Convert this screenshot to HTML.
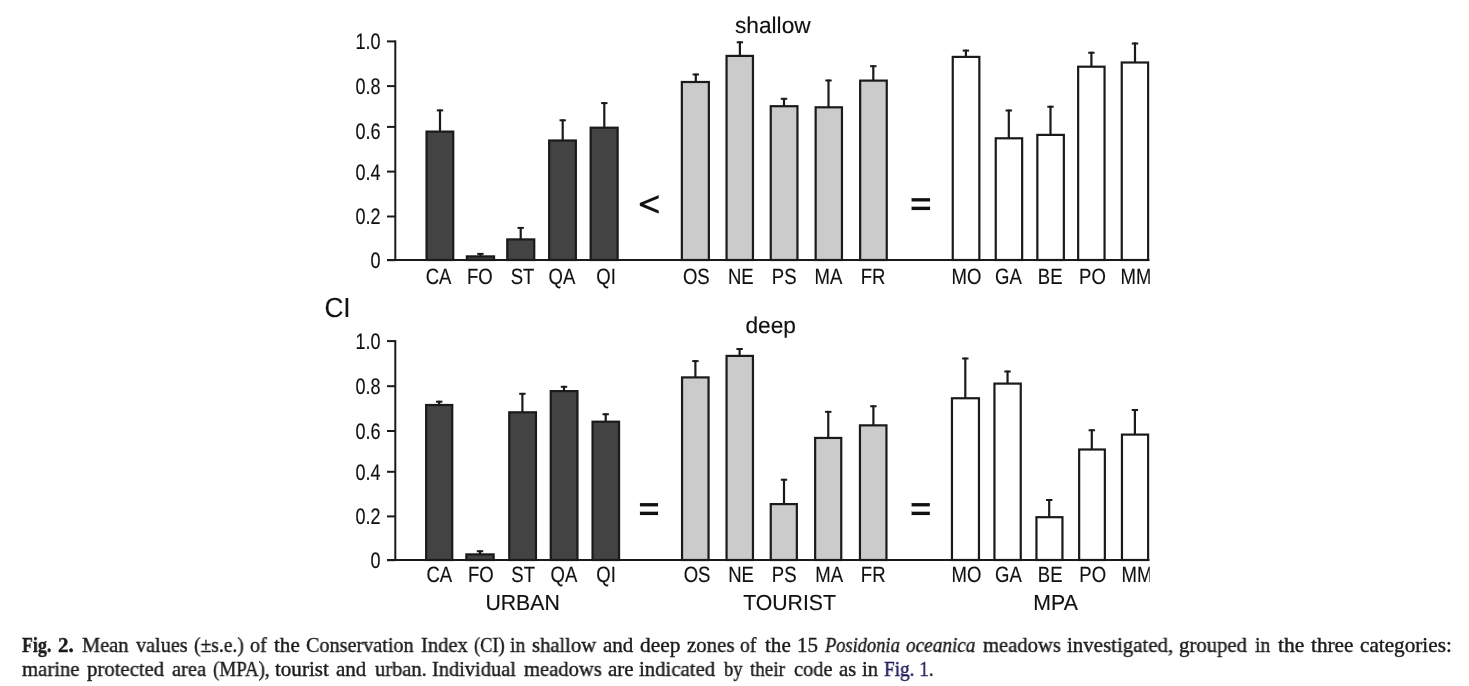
<!DOCTYPE html>
<html><head><meta charset="utf-8"><style>
html,body{margin:0;padding:0;background:#fff;width:1469px;height:686px;overflow:hidden;position:relative}
.ax{font-size:22.5px}
.bl{font-size:22.2px}
.tt{font-size:22.7px}
.ci{font-size:27.6px}
.gl{font-size:21.8px}
.w{position:absolute;font-family:"Liberation Serif",serif;font-size:21px;line-height:0;white-space:nowrap;color:#1b1b1b;-webkit-text-stroke:0.4px currentColor;transform-origin:0 0;will-change:transform}
.w b{font-weight:bold}
.lk{color:#1a1a58}
</style></head><body>
<svg width="1469" height="686" viewBox="0 0 1469 686" style="position:absolute;left:0;top:0;will-change:transform">
<defs><clipPath id="cp"><rect x="0" y="0" width="1149.8" height="686"/></clipPath></defs>
<g clip-path="url(#cp)" font-family="Liberation Sans, sans-serif" fill="#111" stroke="#111" stroke-width="0.15" text-rendering="geometricPrecision">
<line x1="395.3" y1="40.4" x2="395.3" y2="261.0" stroke="#1a1a1a" stroke-width="2"/>
<line x1="387" y1="260.2" x2="395.3" y2="260.2" stroke="#1a1a1a" stroke-width="2"/>
<text x="380.6" y="268.1" text-anchor="end" class="ax" transform="translate(380.6 0) scale(0.80 1) translate(-380.6 0)">0</text>
<line x1="387" y1="216.5" x2="395.3" y2="216.5" stroke="#1a1a1a" stroke-width="2"/>
<text x="380.6" y="224.3" text-anchor="end" class="ax" transform="translate(380.6 0) scale(0.80 1) translate(-380.6 0)">0.2</text>
<line x1="387" y1="171.6" x2="395.3" y2="171.6" stroke="#1a1a1a" stroke-width="2"/>
<text x="380.6" y="179.7" text-anchor="end" class="ax" transform="translate(380.6 0) scale(0.80 1) translate(-380.6 0)">0.4</text>
<line x1="387" y1="126.9" x2="395.3" y2="126.9" stroke="#1a1a1a" stroke-width="2"/>
<text x="380.6" y="139.0" text-anchor="end" class="ax" transform="translate(380.6 0) scale(0.80 1) translate(-380.6 0)">0.6</text>
<line x1="387" y1="86.1" x2="395.3" y2="86.1" stroke="#1a1a1a" stroke-width="2"/>
<text x="380.6" y="94.2" text-anchor="end" class="ax" transform="translate(380.6 0) scale(0.80 1) translate(-380.6 0)">0.8</text>
<line x1="387" y1="41.4" x2="395.3" y2="41.4" stroke="#1a1a1a" stroke-width="2"/>
<text x="380.6" y="49.0" text-anchor="end" class="ax" transform="translate(380.6 0) scale(0.80 1) translate(-380.6 0)">1.0</text>
<line x1="440.0" y1="109.5" x2="440.0" y2="131.5" stroke="#1a1a1a" stroke-width="2.2"/>
<line x1="436.8" y1="110.4" x2="443.2" y2="110.4" stroke="#1a1a1a" stroke-width="2"/>
<rect x="426.55" y="131.60" width="26.70" height="128.40" fill="#434343" stroke="#1a1a1a" stroke-width="2.2"/>
<text x="438.6" y="283.5" text-anchor="middle" class="bl" transform="translate(438.6 0) scale(0.835 1) translate(-438.6 0)">CA</text>
<line x1="480.4" y1="253.0" x2="480.4" y2="256.29999999999995" stroke="#1a1a1a" stroke-width="2.2"/>
<line x1="477.2" y1="253.9" x2="483.59999999999997" y2="253.9" stroke="#1a1a1a" stroke-width="2"/>
<rect x="466.85" y="256.40" width="27.20" height="3.60" fill="#434343" stroke="#1a1a1a" stroke-width="2.2"/>
<text x="479.9" y="283.5" text-anchor="middle" class="bl" transform="translate(479.9 0) scale(0.835 1) translate(-479.9 0)">FO</text>
<line x1="520.7" y1="227.0" x2="520.7" y2="239.29999999999998" stroke="#1a1a1a" stroke-width="2.2"/>
<line x1="517.5" y1="227.9" x2="523.9000000000001" y2="227.9" stroke="#1a1a1a" stroke-width="2"/>
<rect x="507.25" y="239.40" width="27.00" height="20.60" fill="#434343" stroke="#1a1a1a" stroke-width="2.2"/>
<text x="522.5" y="283.5" text-anchor="middle" class="bl" transform="translate(522.5 0) scale(0.835 1) translate(-522.5 0)">ST</text>
<line x1="562.7" y1="119.39999999999999" x2="562.7" y2="140.4" stroke="#1a1a1a" stroke-width="2.2"/>
<line x1="559.5" y1="120.3" x2="565.9000000000001" y2="120.3" stroke="#1a1a1a" stroke-width="2"/>
<rect x="549.15" y="140.50" width="26.70" height="119.50" fill="#434343" stroke="#1a1a1a" stroke-width="2.2"/>
<text x="562.0" y="283.5" text-anchor="middle" class="bl" transform="translate(562.0 0) scale(0.835 1) translate(-562.0 0)">QA</text>
<line x1="604.3" y1="102.19999999999999" x2="604.3" y2="127.6" stroke="#1a1a1a" stroke-width="2.2"/>
<line x1="601.0999999999999" y1="103.1" x2="607.5" y2="103.1" stroke="#1a1a1a" stroke-width="2"/>
<rect x="590.65" y="127.70" width="27.00" height="132.30" fill="#434343" stroke="#1a1a1a" stroke-width="2.2"/>
<text x="606.0" y="283.5" text-anchor="middle" class="bl" transform="translate(606.0 0) scale(0.835 1) translate(-606.0 0)">QI</text>
<line x1="695.8" y1="73.6" x2="695.8" y2="81.89999999999999" stroke="#1a1a1a" stroke-width="2.2"/>
<line x1="692.5999999999999" y1="74.5" x2="699.0" y2="74.5" stroke="#1a1a1a" stroke-width="2"/>
<rect x="681.85" y="82.00" width="27.00" height="178.00" fill="#cbcbcb" stroke="#1a1a1a" stroke-width="2.2"/>
<text x="696.3" y="283.5" text-anchor="middle" class="bl" transform="translate(696.3 0) scale(0.835 1) translate(-696.3 0)">OS</text>
<line x1="739.9" y1="41.4" x2="739.9" y2="55.800000000000004" stroke="#1a1a1a" stroke-width="2.2"/>
<line x1="736.6999999999999" y1="42.3" x2="743.1" y2="42.3" stroke="#1a1a1a" stroke-width="2"/>
<rect x="726.55" y="55.90" width="26.40" height="204.10" fill="#cbcbcb" stroke="#1a1a1a" stroke-width="2.2"/>
<text x="740.8" y="283.5" text-anchor="middle" class="bl" transform="translate(740.8 0) scale(0.835 1) translate(-740.8 0)">NE</text>
<line x1="784.0" y1="97.89999999999999" x2="784.0" y2="106.1" stroke="#1a1a1a" stroke-width="2.2"/>
<line x1="780.8" y1="98.8" x2="787.2" y2="98.8" stroke="#1a1a1a" stroke-width="2"/>
<rect x="770.75" y="106.20" width="26.70" height="153.80" fill="#cbcbcb" stroke="#1a1a1a" stroke-width="2.2"/>
<text x="784.2" y="283.5" text-anchor="middle" class="bl" transform="translate(784.2 0) scale(0.835 1) translate(-784.2 0)">PS</text>
<line x1="828.5" y1="79.6" x2="828.5" y2="107.19999999999999" stroke="#1a1a1a" stroke-width="2.2"/>
<line x1="825.3" y1="80.5" x2="831.7" y2="80.5" stroke="#1a1a1a" stroke-width="2"/>
<rect x="815.65" y="107.30" width="26.30" height="152.70" fill="#cbcbcb" stroke="#1a1a1a" stroke-width="2.2"/>
<text x="828.4" y="283.5" text-anchor="middle" class="bl" transform="translate(828.4 0) scale(0.835 1) translate(-828.4 0)">MA</text>
<line x1="873.3" y1="65.3" x2="873.3" y2="80.5" stroke="#1a1a1a" stroke-width="2.2"/>
<line x1="870.0999999999999" y1="66.2" x2="876.5" y2="66.2" stroke="#1a1a1a" stroke-width="2"/>
<rect x="860.15" y="80.60" width="26.60" height="179.40" fill="#cbcbcb" stroke="#1a1a1a" stroke-width="2.2"/>
<text x="873.0" y="283.5" text-anchor="middle" class="bl" transform="translate(873.0 0) scale(0.835 1) translate(-873.0 0)">FR</text>
<line x1="965.9" y1="49.7" x2="965.9" y2="56.800000000000004" stroke="#1a1a1a" stroke-width="2.2"/>
<line x1="962.6999999999999" y1="50.6" x2="969.1" y2="50.6" stroke="#1a1a1a" stroke-width="2"/>
<rect x="952.75" y="56.90" width="26.60" height="203.10" fill="#ffffff" stroke="#1a1a1a" stroke-width="2.2"/>
<text x="966.4" y="283.5" text-anchor="middle" class="bl" transform="translate(966.4 0) scale(0.835 1) translate(-966.4 0)">MO</text>
<line x1="1008.8" y1="109.6" x2="1008.8" y2="138.2" stroke="#1a1a1a" stroke-width="2.2"/>
<line x1="1005.5999999999999" y1="110.5" x2="1012.0" y2="110.5" stroke="#1a1a1a" stroke-width="2"/>
<rect x="995.75" y="138.30" width="26.40" height="121.70" fill="#ffffff" stroke="#1a1a1a" stroke-width="2.2"/>
<text x="1008.4" y="283.5" text-anchor="middle" class="bl" transform="translate(1008.4 0) scale(0.835 1) translate(-1008.4 0)">GA</text>
<line x1="1050.5" y1="105.8" x2="1050.5" y2="134.79999999999998" stroke="#1a1a1a" stroke-width="2.2"/>
<line x1="1047.3" y1="106.7" x2="1053.7" y2="106.7" stroke="#1a1a1a" stroke-width="2"/>
<rect x="1037.35" y="134.90" width="26.50" height="125.10" fill="#ffffff" stroke="#1a1a1a" stroke-width="2.2"/>
<text x="1050.2" y="283.5" text-anchor="middle" class="bl" transform="translate(1050.2 0) scale(0.835 1) translate(-1050.2 0)">BE</text>
<line x1="1091.4" y1="51.800000000000004" x2="1091.4" y2="66.6" stroke="#1a1a1a" stroke-width="2.2"/>
<line x1="1088.2" y1="52.7" x2="1094.6000000000001" y2="52.7" stroke="#1a1a1a" stroke-width="2"/>
<rect x="1078.15" y="66.70" width="26.40" height="193.30" fill="#ffffff" stroke="#1a1a1a" stroke-width="2.2"/>
<text x="1092.5" y="283.5" text-anchor="middle" class="bl" transform="translate(1092.5 0) scale(0.835 1) translate(-1092.5 0)">PO</text>
<line x1="1135.0" y1="42.5" x2="1135.0" y2="62.4" stroke="#1a1a1a" stroke-width="2.2"/>
<line x1="1131.8" y1="43.4" x2="1138.2" y2="43.4" stroke="#1a1a1a" stroke-width="2"/>
<rect x="1121.75" y="62.50" width="26.40" height="197.50" fill="#ffffff" stroke="#1a1a1a" stroke-width="2.2"/>
<text x="1136.0" y="283.5" text-anchor="middle" class="bl" transform="translate(1136.0 0) scale(0.835 1) translate(-1136.0 0)">MM</text>
<line x1="387" y1="260.0" x2="1149.5" y2="260.0" stroke="#1a1a1a" stroke-width="2"/>
<line x1="395.3" y1="340.15" x2="395.3" y2="561.0" stroke="#1a1a1a" stroke-width="2"/>
<line x1="387" y1="560.2" x2="395.3" y2="560.2" stroke="#1a1a1a" stroke-width="2"/>
<text x="380.6" y="568.1" text-anchor="end" class="ax" transform="translate(380.6 0) scale(0.80 1) translate(-380.6 0)">0</text>
<line x1="387" y1="516.4" x2="395.3" y2="516.4" stroke="#1a1a1a" stroke-width="2"/>
<text x="380.6" y="524.3" text-anchor="end" class="ax" transform="translate(380.6 0) scale(0.80 1) translate(-380.6 0)">0.2</text>
<line x1="387" y1="471.8" x2="395.3" y2="471.8" stroke="#1a1a1a" stroke-width="2"/>
<text x="380.6" y="479.7" text-anchor="end" class="ax" transform="translate(380.6 0) scale(0.80 1) translate(-380.6 0)">0.4</text>
<line x1="387" y1="431.0" x2="395.3" y2="431.0" stroke="#1a1a1a" stroke-width="2"/>
<text x="380.6" y="439.1" text-anchor="end" class="ax" transform="translate(380.6 0) scale(0.80 1) translate(-380.6 0)">0.6</text>
<line x1="387" y1="386.2" x2="395.3" y2="386.2" stroke="#1a1a1a" stroke-width="2"/>
<text x="380.6" y="394.1" text-anchor="end" class="ax" transform="translate(380.6 0) scale(0.80 1) translate(-380.6 0)">0.8</text>
<line x1="387" y1="341.1" x2="395.3" y2="341.1" stroke="#1a1a1a" stroke-width="2"/>
<text x="380.6" y="349.1" text-anchor="end" class="ax" transform="translate(380.6 0) scale(0.80 1) translate(-380.6 0)">1.0</text>
<line x1="439.2" y1="400.8" x2="439.2" y2="404.90000000000003" stroke="#1a1a1a" stroke-width="2.2"/>
<line x1="436.0" y1="401.7" x2="442.4" y2="401.7" stroke="#1a1a1a" stroke-width="2"/>
<rect x="426.15" y="405.00" width="26.10" height="155.00" fill="#434343" stroke="#1a1a1a" stroke-width="2.2"/>
<text x="439.3" y="582.3" text-anchor="middle" class="bl" transform="translate(439.3 0) scale(0.835 1) translate(-439.3 0)">CA</text>
<line x1="480.0" y1="550.35" x2="480.0" y2="554.3000000000001" stroke="#1a1a1a" stroke-width="2.2"/>
<line x1="476.8" y1="551.25" x2="483.2" y2="551.25" stroke="#1a1a1a" stroke-width="2"/>
<rect x="466.35" y="554.40" width="27.30" height="5.60" fill="#434343" stroke="#1a1a1a" stroke-width="2.2"/>
<text x="480.9" y="582.3" text-anchor="middle" class="bl" transform="translate(480.9 0) scale(0.835 1) translate(-480.9 0)">FO</text>
<line x1="522.4" y1="392.90000000000003" x2="522.4" y2="412.20000000000005" stroke="#1a1a1a" stroke-width="2.2"/>
<line x1="519.1999999999999" y1="393.8" x2="525.6" y2="393.8" stroke="#1a1a1a" stroke-width="2"/>
<rect x="509.25" y="412.30" width="26.70" height="147.70" fill="#434343" stroke="#1a1a1a" stroke-width="2.2"/>
<text x="523.2" y="582.3" text-anchor="middle" class="bl" transform="translate(523.2 0) scale(0.835 1) translate(-523.2 0)">ST</text>
<line x1="564.0" y1="385.90000000000003" x2="564.0" y2="391.0" stroke="#1a1a1a" stroke-width="2.2"/>
<line x1="560.8" y1="386.8" x2="567.2" y2="386.8" stroke="#1a1a1a" stroke-width="2"/>
<rect x="550.75" y="391.10" width="26.70" height="168.90" fill="#434343" stroke="#1a1a1a" stroke-width="2.2"/>
<text x="563.9" y="582.3" text-anchor="middle" class="bl" transform="translate(563.9 0) scale(0.835 1) translate(-563.9 0)">QA</text>
<line x1="605.7" y1="413.35" x2="605.7" y2="421.6" stroke="#1a1a1a" stroke-width="2.2"/>
<line x1="602.5" y1="414.25" x2="608.9000000000001" y2="414.25" stroke="#1a1a1a" stroke-width="2"/>
<rect x="592.55" y="421.70" width="26.50" height="138.30" fill="#434343" stroke="#1a1a1a" stroke-width="2.2"/>
<text x="606.0" y="582.3" text-anchor="middle" class="bl" transform="translate(606.0 0) scale(0.835 1) translate(-606.0 0)">QI</text>
<line x1="695.4" y1="360.20000000000005" x2="695.4" y2="377.3" stroke="#1a1a1a" stroke-width="2.2"/>
<line x1="692.1999999999999" y1="361.1" x2="698.6" y2="361.1" stroke="#1a1a1a" stroke-width="2"/>
<rect x="682.05" y="377.40" width="26.50" height="182.60" fill="#cbcbcb" stroke="#1a1a1a" stroke-width="2.2"/>
<text x="697.1" y="582.3" text-anchor="middle" class="bl" transform="translate(697.1 0) scale(0.835 1) translate(-697.1 0)">OS</text>
<line x1="739.6" y1="348.1" x2="739.6" y2="355.8" stroke="#1a1a1a" stroke-width="2.2"/>
<line x1="736.4" y1="349.0" x2="742.8000000000001" y2="349.0" stroke="#1a1a1a" stroke-width="2"/>
<rect x="726.55" y="355.90" width="26.40" height="204.10" fill="#cbcbcb" stroke="#1a1a1a" stroke-width="2.2"/>
<text x="741.1" y="582.3" text-anchor="middle" class="bl" transform="translate(741.1 0) scale(0.835 1) translate(-741.1 0)">NE</text>
<line x1="784.0" y1="478.85" x2="784.0" y2="504.0" stroke="#1a1a1a" stroke-width="2.2"/>
<line x1="780.8" y1="479.75" x2="787.2" y2="479.75" stroke="#1a1a1a" stroke-width="2"/>
<rect x="770.75" y="504.10" width="26.10" height="55.90" fill="#cbcbcb" stroke="#1a1a1a" stroke-width="2.2"/>
<text x="784.2" y="582.3" text-anchor="middle" class="bl" transform="translate(784.2 0) scale(0.835 1) translate(-784.2 0)">PS</text>
<line x1="828.25" y1="410.95000000000005" x2="828.25" y2="437.85" stroke="#1a1a1a" stroke-width="2.2"/>
<line x1="825.05" y1="411.85" x2="831.45" y2="411.85" stroke="#1a1a1a" stroke-width="2"/>
<rect x="815.15" y="437.95" width="26.10" height="122.05" fill="#cbcbcb" stroke="#1a1a1a" stroke-width="2.2"/>
<text x="829.2" y="582.3" text-anchor="middle" class="bl" transform="translate(829.2 0) scale(0.835 1) translate(-829.2 0)">MA</text>
<line x1="873.4" y1="405.35" x2="873.4" y2="425.25" stroke="#1a1a1a" stroke-width="2.2"/>
<line x1="870.1999999999999" y1="406.25" x2="876.6" y2="406.25" stroke="#1a1a1a" stroke-width="2"/>
<rect x="859.95" y="425.35" width="26.50" height="134.65" fill="#cbcbcb" stroke="#1a1a1a" stroke-width="2.2"/>
<text x="873.2" y="582.3" text-anchor="middle" class="bl" transform="translate(873.2 0) scale(0.835 1) translate(-873.2 0)">FR</text>
<line x1="965.3" y1="357.6" x2="965.3" y2="398.15000000000003" stroke="#1a1a1a" stroke-width="2.2"/>
<line x1="962.0999999999999" y1="358.5" x2="968.5" y2="358.5" stroke="#1a1a1a" stroke-width="2"/>
<rect x="951.95" y="398.25" width="27.00" height="161.75" fill="#ffffff" stroke="#1a1a1a" stroke-width="2.2"/>
<text x="966.5" y="582.3" text-anchor="middle" class="bl" transform="translate(966.5 0) scale(0.835 1) translate(-966.5 0)">MO</text>
<line x1="1007.55" y1="370.6" x2="1007.55" y2="383.5" stroke="#1a1a1a" stroke-width="2.2"/>
<line x1="1004.3499999999999" y1="371.5" x2="1010.75" y2="371.5" stroke="#1a1a1a" stroke-width="2"/>
<rect x="994.45" y="383.60" width="26.30" height="176.40" fill="#ffffff" stroke="#1a1a1a" stroke-width="2.2"/>
<text x="1008.4" y="582.3" text-anchor="middle" class="bl" transform="translate(1008.4 0) scale(0.835 1) translate(-1008.4 0)">GA</text>
<line x1="1049.2" y1="499.20000000000005" x2="1049.2" y2="517.1" stroke="#1a1a1a" stroke-width="2.2"/>
<line x1="1046.0" y1="500.1" x2="1052.4" y2="500.1" stroke="#1a1a1a" stroke-width="2"/>
<rect x="1036.45" y="517.20" width="26.00" height="42.80" fill="#ffffff" stroke="#1a1a1a" stroke-width="2.2"/>
<text x="1050.2" y="582.3" text-anchor="middle" class="bl" transform="translate(1050.2 0) scale(0.835 1) translate(-1050.2 0)">BE</text>
<line x1="1091.8" y1="429.40000000000003" x2="1091.8" y2="449.40000000000003" stroke="#1a1a1a" stroke-width="2.2"/>
<line x1="1088.6" y1="430.3" x2="1095.0" y2="430.3" stroke="#1a1a1a" stroke-width="2"/>
<rect x="1079.15" y="449.50" width="25.70" height="110.50" fill="#ffffff" stroke="#1a1a1a" stroke-width="2.2"/>
<text x="1092.7" y="582.3" text-anchor="middle" class="bl" transform="translate(1092.7 0) scale(0.835 1) translate(-1092.7 0)">PO</text>
<line x1="1134.9" y1="409.0" x2="1134.9" y2="434.5" stroke="#1a1a1a" stroke-width="2.2"/>
<line x1="1131.7" y1="409.9" x2="1138.1000000000001" y2="409.9" stroke="#1a1a1a" stroke-width="2"/>
<rect x="1121.95" y="434.60" width="26.20" height="125.40" fill="#ffffff" stroke="#1a1a1a" stroke-width="2.2"/>
<text x="1136.9" y="582.3" text-anchor="middle" class="bl" transform="translate(1136.9 0) scale(0.835 1) translate(-1136.9 0)">MM</text>
<line x1="387" y1="560.0" x2="1149.5" y2="560.0" stroke="#1a1a1a" stroke-width="2"/>
<text x="735" y="32.7" class="tt">shallow</text>
<text x="745.5" y="333.3" class="tt">deep</text>
<text x="337.5" y="317" text-anchor="middle" class="ci" transform="translate(337.5 0) scale(0.95 1) translate(-337.5 0)">CI</text>
<polygon points="658.6,195.3 639.9,202.9 639.9,205.7 658.6,213.4 658.6,210.5 643.9,204.3 658.6,198.2" fill="#111"/>
<rect x="911.7" y="198.20000000000002" width="18.299999999999955" height="3.2" fill="#111"/>
<rect x="911.7" y="206.8" width="18.299999999999955" height="3.2" fill="#111"/>
<rect x="640" y="503.09999999999997" width="18" height="3.2" fill="#111"/>
<rect x="640" y="511.79999999999995" width="18" height="3.2" fill="#111"/>
<rect x="911.7" y="503.09999999999997" width="18.09999999999991" height="3.2" fill="#111"/>
<rect x="911.7" y="511.79999999999995" width="18.09999999999991" height="3.2" fill="#111"/>
<text x="522.6" y="610.2" text-anchor="middle" class="gl" transform="translate(522.6 0) scale(0.975 1) translate(-522.6 0)">URBAN</text>
<text x="789.6" y="610.2" text-anchor="middle" class="gl" transform="translate(789.6 0) scale(0.975 1) translate(-789.6 0)">TOURIST</text>
<text x="1055.6" y="610.2" text-anchor="middle" class="gl" transform="translate(1055.6 0) scale(0.975 1) translate(-1055.6 0)">MPA</text>
</g></svg>
<span class="w" style="left:22.3px;top:644.9px;transform:scaleX(0.85)"><b>Fig.</b></span>
<span class="w" style="left:57.8px;top:644.9px;transform:scaleX(1.0)"><b>2.</b></span>
<span class="w" style="left:82.33px;top:644.9px;transform:scaleX(0.972)">Mean</span>
<span class="w" style="left:136.0px;top:644.9px;transform:scaleX(0.962)">values</span>
<span class="w" style="left:193.77px;top:644.9px;transform:scaleX(0.931)">(±s.e.)</span>
<span class="w" style="left:249.84px;top:644.9px;transform:scaleX(0.959)">of</span>
<span class="w" style="left:273.6px;top:644.9px;transform:scaleX(1.004)">the</span>
<span class="w" style="left:306.14px;top:644.9px;transform:scaleX(0.961)">Conservation</span>
<span class="w" style="left:420.82px;top:644.9px;transform:scaleX(0.98)">Index</span>
<span class="w" style="left:473.62px;top:644.9px;transform:scaleX(0.876)">(CI)</span>
<span class="w" style="left:510.05px;top:644.9px;transform:scaleX(0.947)">in</span>
<span class="w" style="left:532.32px;top:644.9px;transform:scaleX(0.98)">shallow</span>
<span class="w" style="left:603.2px;top:644.9px;transform:scaleX(1.0)">and</span>
<span class="w" style="left:640.38px;top:644.9px;transform:scaleX(1.018)">deep</span>
<span class="w" style="left:686.71px;top:644.9px;transform:scaleX(0.993)">zones</span>
<span class="w" style="left:740.16px;top:644.9px;transform:scaleX(0.935)">of</span>
<span class="w" style="left:764.7px;top:644.9px;transform:scaleX(1.004)">the</span>
<span class="w" style="left:796.51px;top:644.9px;transform:scaleX(0.994)">15</span>
<span class="w" style="left:824.6px;top:644.9px;transform:scaleX(0.878)"><i>Posidonia</i></span>
<span class="w" style="left:905.88px;top:644.9px;transform:scaleX(0.916)"><i>oceanica</i></span>
<span class="w" style="left:982.8px;top:644.9px;transform:scaleX(0.981)">meadows</span>
<span class="w" style="left:1067.0px;top:644.9px;transform:scaleX(0.995)">investigated,</span>
<span class="w" style="left:1178.61px;top:644.9px;transform:scaleX(0.988)">grouped</span>
<span class="w" style="left:1254.66px;top:644.9px;transform:scaleX(0.94)">in</span>
<span class="w" style="left:1277.9px;top:644.9px;transform:scaleX(1.024)">the</span>
<span class="w" style="left:1311.1px;top:644.9px;transform:scaleX(1.012)">three</span>
<span class="w" style="left:1359.69px;top:644.9px;transform:scaleX(1.009)">categories:</span>
<span class="w" style="left:22.3px;top:668.8px;transform:scaleX(0.986)">marine</span>
<span class="w" style="left:87.1px;top:668.8px;transform:scaleX(0.988)">protected</span>
<span class="w" style="left:171.92px;top:668.8px;transform:scaleX(0.976)">area</span>
<span class="w" style="left:212.8px;top:668.8px;transform:scaleX(0.902)">(MPA),</span>
<span class="w" style="left:275.3px;top:668.8px;transform:scaleX(1.002)">tourist</span>
<span class="w" style="left:336.0px;top:668.8px;transform:scaleX(0.997)">and</span>
<span class="w" style="left:374.6px;top:668.8px;transform:scaleX(0.975)">urban.</span>
<span class="w" style="left:431.93px;top:668.8px;transform:scaleX(0.971)">Individual</span>
<span class="w" style="left:523.5px;top:668.8px;transform:scaleX(0.98)">meadows</span>
<span class="w" style="left:607.7px;top:668.8px;transform:scaleX(1.0)">are</span>
<span class="w" style="left:639.31px;top:668.8px;transform:scaleX(0.989)">indicated</span>
<span class="w" style="left:723.6px;top:668.8px;transform:scaleX(0.886)">by</span>
<span class="w" style="left:750.0px;top:668.8px;transform:scaleX(0.908)">their</span>
<span class="w" style="left:793.73px;top:668.8px;transform:scaleX(0.974)">code</span>
<span class="w" style="left:838.91px;top:668.8px;transform:scaleX(0.988)">as</span>
<span class="w" style="left:861.71px;top:668.8px;transform:scaleX(0.987)">in</span>
<span class="w" style="left:884.18px;top:668.8px;transform:scaleX(0.915)"><span class="lk">Fig. 1</span>.</span>
</body></html>
